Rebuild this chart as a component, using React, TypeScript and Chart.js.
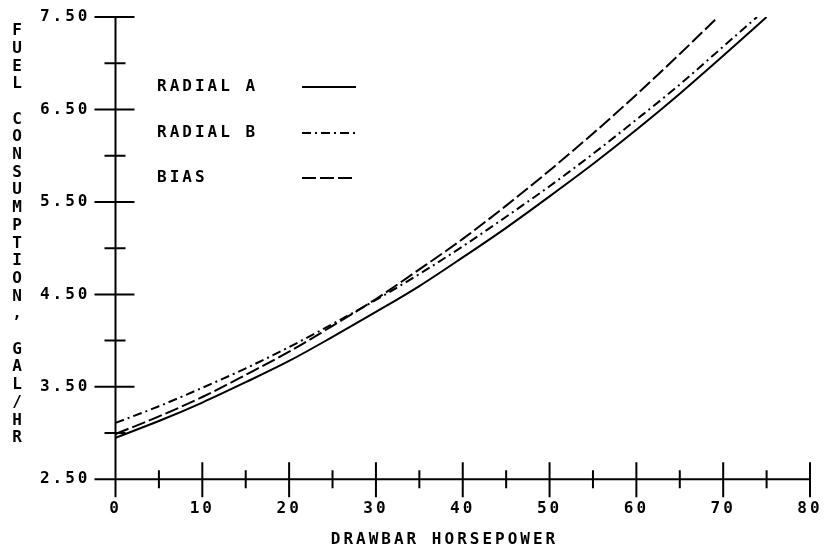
import React, { useEffect, useRef } from "react";
import { Chart, registerables } from "chart.js";

Chart.register(...registerables);

// Fuel consumption (gal/hr) against drawbar horsepower, three tyre types
const hpRadialA = [0, 5, 10, 15, 20, 25, 30, 35, 40, 45, 50, 55, 60, 65, 70, 75];
const fuelRadialA = [2.95, 3.13, 3.33, 3.55, 3.78, 4.04, 4.31, 4.59, 4.9, 5.22, 5.56, 5.91, 6.28, 6.67, 7.08, 7.5];

const hpRadialB = [0, 5, 10, 15, 20, 25, 30, 35, 40, 45, 50, 55, 60, 65, 70, 73.9];
const fuelRadialB = [3.11, 3.29, 3.49, 3.7, 3.93, 4.18, 4.44, 4.72, 5.02, 5.34, 5.67, 6.02, 6.39, 6.77, 7.18, 7.5];

const hpBias = [0, 5, 10, 15, 20, 25, 30, 35, 40, 45, 50, 55, 60, 65, 69.4];
const fuelBias = [2.99, 3.18, 3.39, 3.63, 3.88, 4.16, 4.45, 4.77, 5.1, 5.46, 5.84, 6.24, 6.66, 7.1, 7.5];

const seriesNames = ["RADIAL A", "RADIAL B", "BIAS"];
const seriesDashes: number[][] = [[], [9, 4, 2, 4], [14, 4]];

const yMin = 2.5;
const yMax = 7.5;
const xMin = 0;
const xMax = 80;

const yTitle = "FUEL CONSUMPTION, GAL/HR";
const xTitle = "DRAWBAR HORSEPOWER";

const FONT = "'DejaVu Sans Mono', monospace";
const SPACING = 3;

const toPoints = (xs: number[], ys: number[]) => xs.map((x, i) => ({ x, y: ys[i] }));

const plotterFrame = {
  id: "plotterFrame",
  beforeDraw(chart: any) {
    chart.ctx.letterSpacing = SPACING + "px";
  },
  beforeDatasetsDraw(chart: any) {
    const { ctx, scales } = chart;
    const x = scales.x;
    const y = scales.y;
    const x0 = x.getPixelForValue(xMin);
    const x1 = x.getPixelForValue(xMax);
    const yb = y.getPixelForValue(yMin);
    const yt = y.getPixelForValue(yMax);
    ctx.save();
    ctx.strokeStyle = "#000";
    ctx.lineWidth = 2;
    ctx.lineCap = "butt";
    ctx.beginPath();
    ctx.moveTo(x0, yt);
    ctx.lineTo(x0, yb);
    ctx.moveTo(x0, yb);
    ctx.lineTo(x1, yb);
    y.ticks.forEach((t: any) => {
      const py = y.getPixelForValue(t.value);
      const major = t.label !== "";
      ctx.moveTo(x0 - (major ? 21 : 11), py);
      ctx.lineTo(x0 + (major ? 19 : 10), py);
    });
    x.ticks.forEach((t: any) => {
      const px = x.getPixelForValue(t.value);
      const major = t.label !== "";
      ctx.moveTo(px, yb - (major ? 17 : 9));
      ctx.lineTo(px, yb + (major ? 18 : 9));
    });
    ctx.stroke();
    ctx.restore();
  },
  afterDraw(chart: any) {
    const { ctx } = chart;
    ctx.save();
    ctx.letterSpacing = SPACING + "px";
    ctx.fillStyle = "#000";
    ctx.font = "bold 16px " + FONT;
    ctx.textBaseline = "middle";

    // vertical stacked axis title
    ctx.textAlign = "center";
    const chars = Array.from(yTitle);
    chars.forEach((c, i) => {
      if (c !== " ") ctx.fillText(c, 17 + SPACING / 2, 31 + i * 17.7);
    });

    // horizontal axis title
    ctx.fillText(xTitle, 443 + SPACING / 2, 540);

    // legend
    ctx.textAlign = "left";
    const rows = [87, 133, 178];
    chart.data.datasets.forEach((ds: any, i: number) => {
      ctx.fillText(seriesNames[i], 157, rows[i]);
      ctx.save();
      ctx.letterSpacing = "0px";
      ctx.strokeStyle = "#000";
      ctx.lineWidth = 2;
      ctx.setLineDash(ds.borderDash || []);
      ctx.beginPath();
      ctx.moveTo(302, rows[i]);
      ctx.lineTo(356, rows[i]);
      ctx.stroke();
      ctx.restore();
    });
    ctx.restore();
  },
};

export default function App() {
  const canvasRef = useRef<HTMLCanvasElement | null>(null);

  useEffect(() => {
    document.body.style.margin = "0";
    const canvas = canvasRef.current;
    if (!canvas) return;
    const lineStyle = (i: number) => ({
      borderColor: "#000",
      borderWidth: 2,
      borderDash: seriesDashes[i],
      pointRadius: 0,
      fill: false,
      cubicInterpolationMode: "monotone" as const,
    });
    const chart = new Chart(canvas, {
      type: "line",
      data: {
        datasets: [
          { label: seriesNames[0], data: toPoints(hpRadialA, fuelRadialA), ...lineStyle(0) },
          { label: seriesNames[1], data: toPoints(hpRadialB, fuelRadialB), ...lineStyle(1) },
          { label: seriesNames[2], data: toPoints(hpBias, fuelBias), ...lineStyle(2) },
        ],
      },
      options: {
        animation: false,
        responsive: false,
        devicePixelRatio: 1,
        layout: { padding: { top: 17, right: 15, left: 0, bottom: 0 } },
        plugins: {
          legend: { display: false },
          tooltip: { enabled: false },
          title: { display: false },
        },
        scales: {
          x: {
            type: "linear",
            min: xMin,
            max: xMax,
            grid: { display: false, drawTicks: false, tickLength: 0 },
            border: { display: false },
            afterFit: (scale: any) => {
              scale.height = 70.7;
              scale.paddingLeft = 0;
              scale.paddingRight = 0;
            },
            ticks: {
              stepSize: 5,
              autoSkip: false,
              maxRotation: 0,
              padding: 20,
              color: "#000",
              font: { family: FONT, size: 16, weight: "bold" },
              callback: (v: any) => (Number(v) % 10 === 0 ? String(v) : ""),
            },
          },
          y: {
            type: "linear",
            min: yMin,
            max: yMax,
            grid: { display: false, drawTicks: false, tickLength: 0 },
            border: { display: false },
            afterFit: (scale: any) => {
              scale.width = 115.5;
              scale.paddingTop = 0;
              scale.paddingBottom = 0;
            },
            ticks: {
              stepSize: 0.5,
              autoSkip: false,
              padding: 25,
              color: "#000",
              font: { family: FONT, size: 16, weight: "bold" },
              callback: (v: any) => {
                const n = Number(v);
                return Math.abs(((n - yMin) % 1)) < 1e-6 ? n.toFixed(2) : "";
              },
            },
          },
        },
      },
      plugins: [plotterFrame],
    });
    return () => chart.destroy();
  }, []);

  return (
    <div style={{ position: "fixed", left: 0, top: 0, width: 825, height: 550, background: "#fff" }}>
      <canvas ref={canvasRef} width={825} height={550} style={{ width: 825, height: 550 }} />
    </div>
  );
}
